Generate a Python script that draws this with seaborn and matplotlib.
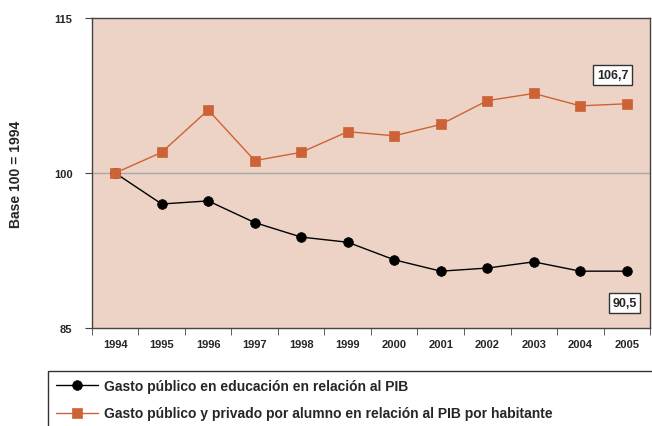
import matplotlib
matplotlib.use("Agg")
import matplotlib.pyplot as plt
import seaborn as sns
import pandas as pd

years = ["1994", "1995", "1996", "1997", "1998", "1999",
         "2000", "2001", "2002", "2003", "2004", "2005"]
gasto_pib = [100, 97.0, 97.3, 95.2, 93.8, 93.3, 91.6, 90.5, 90.8, 91.4, 90.5, 90.5]
gasto_alumno = [100, 102.0, 106.1, 101.2, 102.0, 104.0, 103.6, 104.7, 107.0, 107.7, 106.5, 106.7]
label_pib = "Gasto público en educación en relación al PIB"
label_alumno = "Gasto público y privado por alumno en relación al PIB por habitante"

sns.set_style("white")
plt.rcParams["font.family"] = ["Liberation Sans", "DejaVu Sans"]

df = pd.DataFrame({
    "x": list(range(len(years))) * 2,
    "valor": gasto_pib + gasto_alumno,
    "serie": [label_pib] * len(years) + [label_alumno] * len(years),
})

fig = plt.figure(figsize=(6.52, 4.27), dpi=100)
ax = fig.add_axes([0.141, 0.2295, 0.856, 0.726])
ax.set_facecolor("#EDD3C5")

ax.axhline(100, color="#A9A9A9", lw=1, zorder=1)

sns.lineplot(data=df, x="x", y="valor", hue="serie", style="serie",
             palette={label_pib: "black", label_alumno: "#CC6235"},
             markers={label_pib: "o", label_alumno: "s"}, dashes=False,
             markersize=7, markeredgewidth=0.5, lw=1, ax=ax, zorder=3)
for line in ax.lines[1:]:
    line.set_markeredgecolor(line.get_color())

ax.set_xlim(-0.5, len(years) - 0.5)
ax.set_ylim(85, 115)
ax.set_yticks([85, 100, 115])
ax.set_yticklabels(["85", "100", "115"], fontsize=8, fontweight="bold")
ax.set_xticks([i for i in range(len(years))])
ax.set_xticklabels(years, fontsize=8, fontweight="bold")
ax.set_xticks([i - 0.5 for i in range(len(years) + 1)], minor=True)
ax.tick_params(axis="x", which="major", length=0, pad=8)
ax.tick_params(axis="x", which="minor", length=5, direction="out", color="#444444", bottom=True)
ax.tick_params(axis="y", length=5, direction="out", color="#444444", left=True, pad=9)
ax.set_xlabel("")
ax.set_ylabel("Base 100 = 1994", fontsize=10, fontweight="bold", labelpad=22)
for sp in ax.spines.values():
    sp.set_color("#444444")
    sp.set_linewidth(1)

bbox = dict(boxstyle="square,pad=0.3", fc="white", ec="#333333", lw=1)
ax.text(10.7, 109.5, "106,7", fontsize=9, fontweight="bold", ha="center", va="center", bbox=bbox)
ax.text(10.95, 87.4, "90,5", fontsize=9, fontweight="bold", ha="center", va="center", bbox=bbox)

handles, labels = ax.get_legend_handles_labels()
ax.get_legend().remove()
leg = fig.legend(handles, labels, loc="upper left", bbox_to_anchor=(0.0736, -0.2, 1.0, 0.329),
                 mode="expand", ncol=1, prop={"weight": "bold", "size": 10},
                 frameon=True, fancybox=False, edgecolor="#333333", facecolor="white",
                 framealpha=1, borderpad=0.6, handlelength=3.0, handletextpad=0.4,
                 labelspacing=0.95, borderaxespad=0)
leg.get_frame().set_linewidth(1)

fig.savefig("out.png", dpi=100)
